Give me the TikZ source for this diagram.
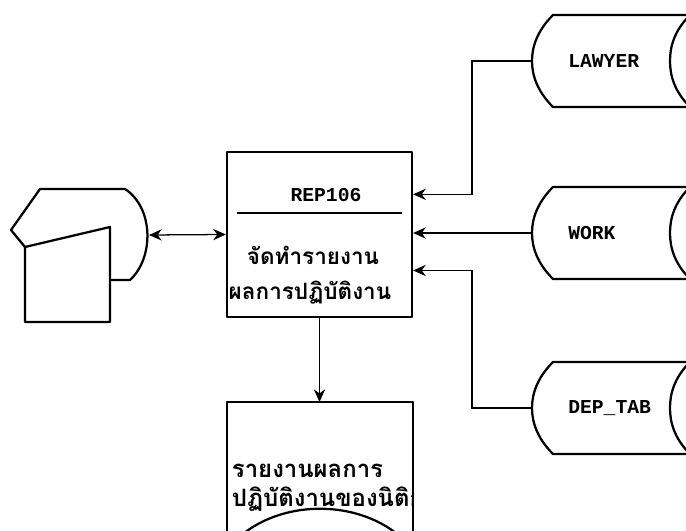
\documentclass[tikz,border=0pt]{standalone}
\usepackage{fontspec}
\newfontfamily\thaifont[Script=Thai]{Loma}
\newfontfamily\dotfont{Liberation Mono}
\usetikzlibrary{arrows.meta,calc}

\begin{document}
\begin{tikzpicture}[x=0.025cm,y=-0.025cm,>={Stealth[length=9pt,width=8pt]},
    box/.style={draw,line width=1.6pt,line join=round},
    link/.style={line width=0.9pt},
    lbl/.style={font=\dotfont\bfseries\fontsize{14}{16}\selectfont},
    thai/.style={font=\thaifont\bfseries\fontsize{16}{19}\selectfont}]
  \useasboundingbox (0,0) rectangle (686,531);

  % display
  \draw[box] (110,280) -- (130,280) .. controls (154,258) and (154,208) .. (125,189)
    -- (40,189) -- (11,230) -- (25,247);
  \draw[box] (25,247) -- (110,227) -- (110,322) -- (25,322) -- cycle;
  \coordinate (disp) at (149,235);

  % program
  \node[box,minimum width=4.625cm,minimum height=4.125cm] (main) at (319.5,234.5) {};
  \node[lbl] (code) at (326,195) {REP106};
  \draw[link] (237,213) -- (402,213);
  \node[thai] (job1) at (313,255) {จัดทำรายงาน};
  \node[thai] (job2) at (310,293) {ผลการปฏิบัติงาน};

  % report
  \draw[box] (227,550) -- (227,402) -- (413,402) -- (413,550);
  \draw[box] (227,550) .. controls (270,495) and (370,495) .. (413,550);
  \coordinate (rpt) at (319.5,402);
  \begin{scope}
    \clip (227,402) rectangle (413,540);
    \node[thai,anchor=west,font=\thaifont\bfseries\fontsize{17}{20}\selectfont] (rpt1) at (227,471) {รายงานผลการ};
    \node[thai,anchor=west,font=\thaifont\bfseries\fontsize{17}{20}\selectfont] (rpt2) at (227,499) {ปฏิบัติงานของนิติกร};
  \end{scope}

  % files
  \foreach \y/\nm/\txt in {61/lawyer/LAWYER,233/work/WORK,408/dep/DEP\_TAB} {
    \draw[box] (711,\y-46) -- (553,\y-46) .. controls (537,\y-30) and (532,\y-14) .. (532,\y)
      .. controls (532,\y+14) and (537,\y+30) .. (553,\y+46) -- (711,\y+46);
    \draw[box] (690,\y-46) .. controls (674,\y-30) and (670,\y-14) .. (670,\y)
      .. controls (670,\y+14) and (674,\y+30) .. (690,\y+46);
    \node[lbl,anchor=west,inner xsep=0.9cm,inner ysep=0pt] (\nm) at (532,\y) {\txt};
  }

  \draw[link,<->] (disp) -- (main.west);
  \draw[link,->] (main.south) -- (rpt);
  \draw[link,->] (lawyer.west) -- ++(-60,0) |- ($(main.north east)!0.26!(main.south east)$);
  \draw[link,->] (work.west) -- (work.west -| main.east);
  \draw[link,->] (dep.west) -- ++(-60,0) |- ($(main.north east)!0.715!(main.south east)$);
\end{tikzpicture}
\end{document}
